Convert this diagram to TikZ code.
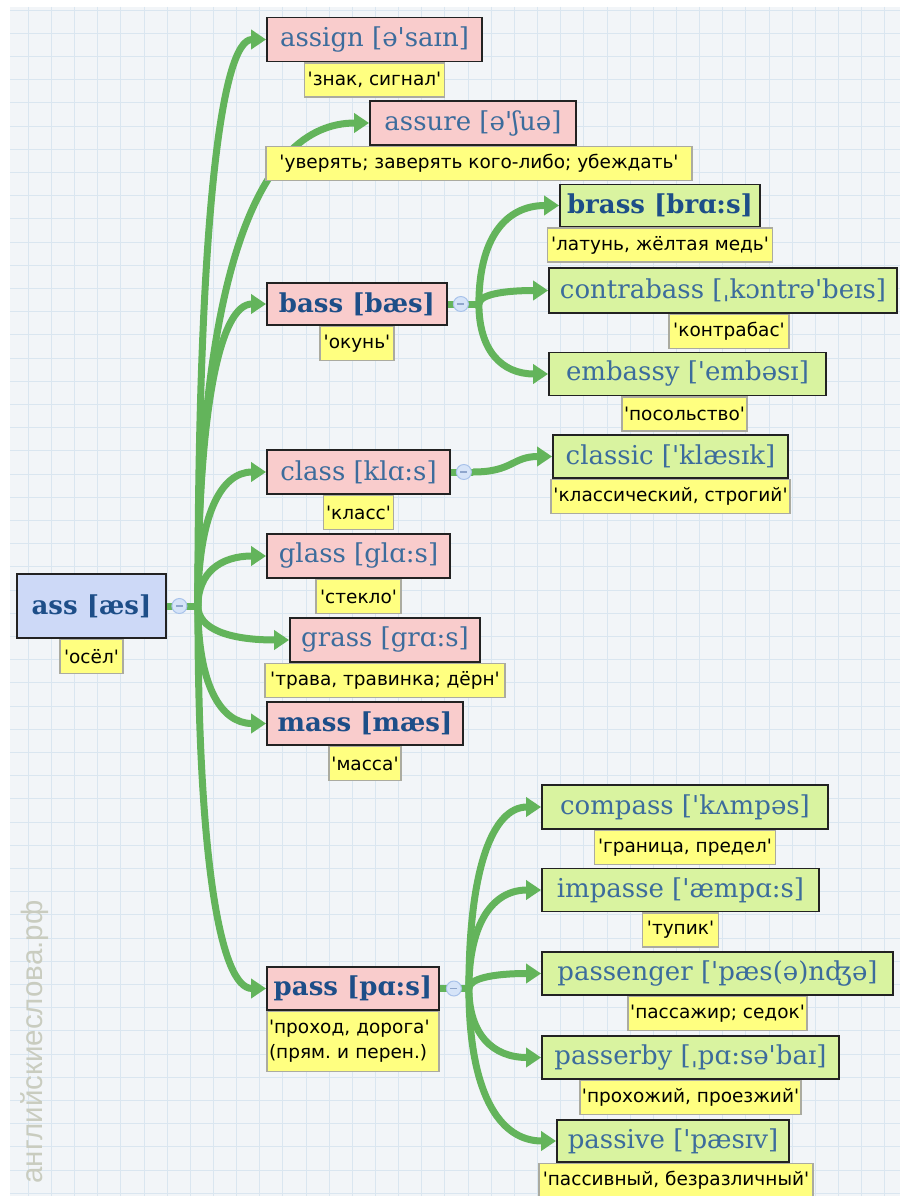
\documentclass[tikz,border=0pt]{standalone}
\usepackage{fontspec}
\usetikzlibrary{arrows.meta,calc}
\newfontfamily\hwfont{DejaVu Serif}
\newfontfamily\trfont{DejaVu Sans}
\newfontfamily\wmfont{Liberation Sans}
\frenchspacing
\definecolor{bgc}{HTML}{F2F5F8}
\definecolor{gridc}{HTML}{DAE6F0}
\definecolor{pinkc}{HTML}{F9CCCC}
\definecolor{greenc}{HTML}{D9F3A0}
\definecolor{bluec}{HTML}{CDD9F7}
\definecolor{yelc}{HTML}{FFFF80}
\definecolor{yelb}{HTML}{ABABA0}
\definecolor{txtc}{HTML}{3C6C9C}
\definecolor{txtb}{HTML}{1D4E88}
\definecolor{hwborder}{HTML}{222222}
\definecolor{linec}{HTML}{63B45B}
\definecolor{btnf}{HTML}{D6E4F8}
\definecolor{btnd}{HTML}{A8C2EA}
\definecolor{btnm}{HTML}{8FA6CC}
\definecolor{wmc}{HTML}{C9CCBF}
\pgfdeclarelayer{back}
\pgfdeclarelayer{edges}
\pgfsetlayers{back,edges,main}
\tikzset{
  hw/.style={draw=hwborder, line width=1.8pt, fill=pinkc, text=txtc,
    font=\hwfont\fontsize{26}{30}\selectfont, inner sep=0pt},
  hwb/.style={hw, text=txtb, font=\hwfont\bfseries\fontsize{26}{30}\selectfont},
  grn/.style={fill=greenc},
  tr/.style={draw=yelb, line width=1.4pt, fill=yelc, text=black,
    font=\trfont\fontsize{18.5}{25}\selectfont, inner sep=0pt, minimum height=34pt, anchor=north},
  conn/.style={draw=linec, line width=7pt, -{Triangle[length=15pt,width=19pt]}},
  stub/.style={draw=linec, line width=7pt},
  btn/.style={circle, draw=btnd, fill=btnf, line width=1pt, minimum size=15pt, inner sep=0pt,
    path picture={\draw[btnm, line width=1.2pt] ([xshift=-3.5pt]path picture bounding box.center) -- ([xshift=3.5pt]path picture bounding box.center);}},
  qb/.style={to path={.. controls ($(\tikztostart)!0.667!(\tikztostart |- \tikztotarget)$) and ($(\tikztotarget)!0.667!(\tikztostart |- \tikztotarget)$) .. (\tikztotarget)}},
  gridline/.style={draw=gridc, line width=0.8pt},
  wm/.style={rotate=90, text=wmc, font=\wmfont\fontsize{29.5}{30}\selectfont, inner sep=0pt}
}
\begin{document}
\begin{tikzpicture}[x=1pt,y=-1pt]
\useasboundingbox (0,0) rectangle (900,1196);
\begin{pgfonlayer}{back}
\fill[white] (0,0) rectangle (900,1196);
\fill[bgc] (10,7) rectangle (900,1196);
\foreach \i in {1,...,38} \draw[gridline] ({5+23.15*\i},7) -- ({5+23.15*\i},1196);
\foreach \i in {0,...,51} \draw[gridline] (10,{10+23.2*\i}) -- (900,{10+23.2*\i});
\node[wm] (wm) at (35,1042) {английскиеслова.рф};
\end{pgfonlayer}

% headwords
\node[hwb, fill=bluec, minimum width=149pt, minimum height=64pt] (ass) at (91.5,606) {ass [æs]};
\node[hw, minimum width=215pt, minimum height=44pt] (assign) at (374.5,39.5) {assign [ə'saɪn]};
\node[hw, minimum width=206pt, minimum height=44pt] (assure) at (473,123) {assure [ə'ʃuə]};
\node[hwb, minimum width=180pt, minimum height=42pt] (bass) at (357,304) {bass [bæs]};
\node[hwb, grn, minimum width=200pt, minimum height=42pt] (brass) at (660,205.5) {brass [brɑ:s]};
\node[hw, grn, minimum width=348pt, minimum height=45pt] (contrabass) at (723,290.5) {contrabass [ˌkɔntrə'beɪs]};
\node[hw, grn, minimum width=277pt, minimum height=43pt] (embassy) at (687.5,374) {embassy ['embəsɪ]};
\node[hw, minimum width=183pt, minimum height=44pt] (class) at (358.5,472) {class [klɑ:s]};
\node[hw, grn, minimum width=235pt, minimum height=43pt] (classic) at (670.5,456.5) {classic ['klæsɪk]};
\node[hw, minimum width=183pt, minimum height=44pt] (glass) at (358.5,556) {glass [glɑ:s]};
\node[hw, minimum width=190pt, minimum height=44pt] (grass) at (385,640) {grass [grɑ:s]};
\node[hwb, minimum width=196pt, minimum height=43pt] (mass) at (365,723.5) {mass [mæs]};
\node[hwb, minimum width=172pt, minimum height=43pt] (pass) at (353,988.5) {pass [pɑ:s]};
\node[hw, grn, minimum width=286pt, minimum height=44pt] (compass) at (685,807) {compass ['kʌmpəs]};
\node[hw, grn, minimum width=277pt, minimum height=43pt] (impasse) at (680.5,890) {impasse ['æmpɑ:s]};
\node[hw, grn, minimum width=351pt, minimum height=43pt] (passenger) at (717.5,973.5) {passenger ['pæs(ə)nʤə]};
\node[hw, grn, minimum width=297pt, minimum height=43pt] (passerby) at (690.5,1057.5) {passerby [ˌpɑ:sə'baɪ]};
\node[hw, grn, minimum width=232pt, minimum height=42pt] (passive) at (673,1141) {passive ['pæsɪv]};

% translations
\node[tr, minimum width=63pt] (t-ass) at (ass.south) {'осёл'};
\node[tr, minimum width=140pt] (t-assign) at (assign.south) {'знак, сигнал'};
\node[tr, minimum width=426pt] (t-assure) at ([xshift=6pt]assure.south) {'уверять; заверять кого-либо; убеждать'};
\node[tr, minimum width=74pt] (t-bass) at (bass.south) {'окунь'};
\node[tr, minimum width=225pt] (t-brass) at (brass.south) {'латунь, жёлтая медь'};
\node[tr, minimum width=120pt] (t-contrabass) at ([xshift=6pt]contrabass.south) {'контрабас'};
\node[tr, minimum width=125pt] (t-embassy) at ([xshift=-3pt]embassy.south) {'посольство'};
\node[tr, minimum width=70pt] (t-class) at (class.south) {'класс'};
\node[tr, minimum width=239pt] (t-classic) at (classic.south) {'классический, строгий'};
\node[tr, minimum width=85pt] (t-glass) at (glass.south) {'стекло'};
\node[tr, minimum width=240pt] (t-grass) at (grass.south) {'трава, травинка; дёрн'};
\node[tr, minimum width=72pt] (t-mass) at (mass.south) {'масса'};
\node[tr, minimum width=172pt, minimum height=60pt, align=left, text width=168pt, inner xsep=2pt] (t-pass) at (pass.south) {'проход, дорога'\\(прям. и перен.)};
\node[tr, minimum width=181pt] (t-compass) at (compass.south) {'граница, предел'};
\node[tr, minimum width=76pt] (t-impasse) at (impasse.south) {'тупик'};
\node[tr, minimum width=179pt] (t-passenger) at (passenger.south) {'пассажир; седок'};
\node[tr, minimum width=221pt] (t-passerby) at (passerby.south) {'прохожий, проезжий'};
\node[tr, minimum width=274pt] (t-passive) at ([xshift=3pt]passive.south) {'пассивный, безразличный'};

% buttons
\node[btn] (b-ass) at ([xshift=12.5pt]ass.east) {};
\node[btn] (b-bass) at ([xshift=13pt]bass.east) {};
\node[btn] (b-class) at ([xshift=13pt]class.east) {};
\node[btn] (b-pass) at ([xshift=14pt]pass.east) {};

% connectors
\begin{pgfonlayer}{edges}
\coordinate (j0) at ([xshift=31pt]ass.east);
\coordinate (j1) at ([xshift=31pt]bass.east);
\coordinate (j2) at ([xshift=22pt]class.east);
\coordinate (j3) at ([xshift=29pt]pass.east);
\draw[stub] (ass.east) -- (j0);
\draw[stub] (bass.east) -- (j1);
\draw[stub] (class.east) -- (j2);
\draw[stub] (pass.east) -- (j3);
\foreach \t in {assign,assure,bass,class,glass,grass,mass,pass}
  \draw[conn] (j0) to[qb] (\t.west);
\foreach \t in {brass,contrabass,embassy}
  \draw[conn] (j1) to[qb] (\t.west);
\draw[conn] (j2) .. controls +(40,0) and +(-40,0) .. (classic.west);
\foreach \t in {compass,impasse,passenger,passerby,passive}
  \draw[conn] (j3) to[qb] (\t.west);
\end{pgfonlayer}
\end{tikzpicture}
\end{document}
